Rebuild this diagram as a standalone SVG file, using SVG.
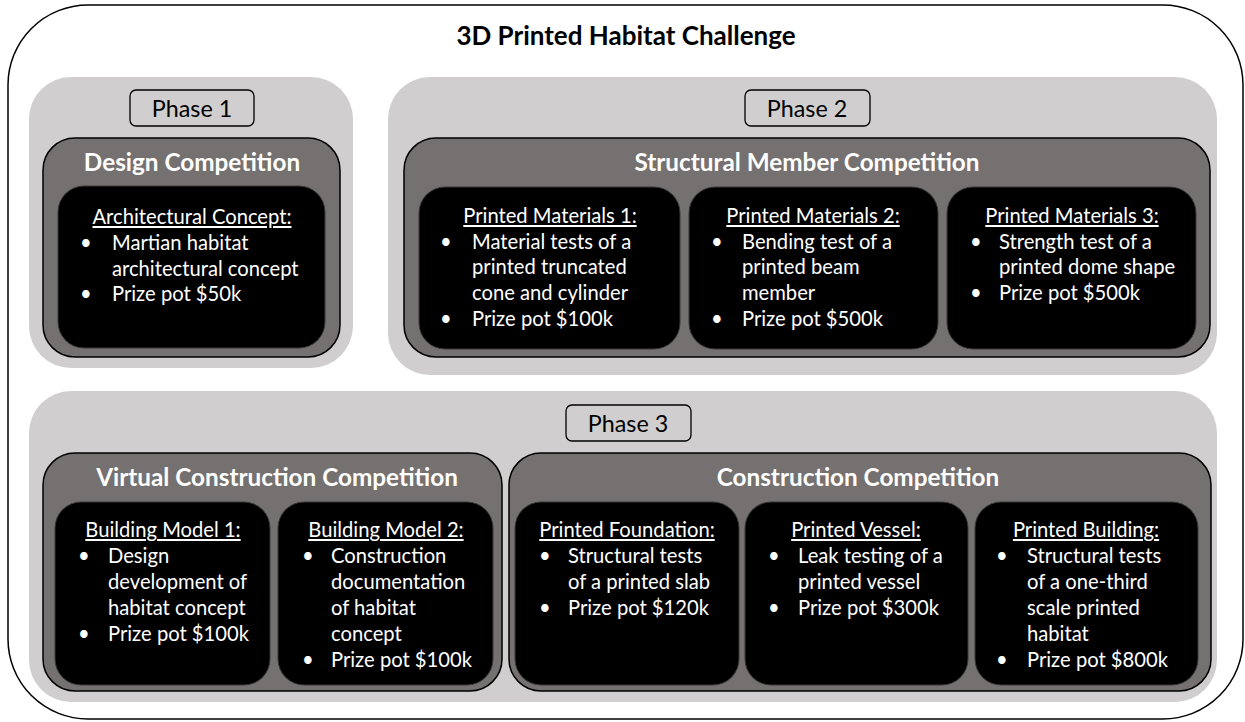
<svg xmlns="http://www.w3.org/2000/svg" width="1245" height="722" viewBox="0 0 1245 722">
  <style>
    .frame { fill: #ffffff; stroke: #000000; stroke-width: 1.5; }
    .phase { fill: #d0cece; stroke: none; }
    .tag { fill: none; stroke: #000000; stroke-width: 1.3; }
    .comp { fill: #767171; stroke: #000000; stroke-width: 1.5; }
    .item { fill: #000000; stroke: #3a3838; stroke-width: 1; }
    text { font-family: Lato, "Liberation Sans", sans-serif; }
    .title { font-size: 26px; font-weight: bold; fill: #000000; text-anchor: middle; }
    .tagtxt { font-size: 23.3px; fill: #000000; text-anchor: middle; }
    .ctitle { font-size: 24.3px; font-weight: bold; fill: #ffffff; text-anchor: middle; }
    .head { font-size: 20.2px; fill: #ffffff; text-anchor: middle; text-decoration: underline; }
    .body { font-size: 20.2px; fill: #ffffff; }
  </style>

  <!-- outer frame -->
  <rect id="frame" class="frame" x="8" y="5" width="1235" height="714" rx="80" ry="80"/>
  <text id="main-title" class="title" x="626" y="45">3D Printed Habitat Challenge</text>

  <!-- Phase 1 -->
  <g id="phase1">
    <rect class="phase" x="29" y="77" width="324" height="291" rx="42"/>
    <rect class="tag" x="130" y="90" width="124" height="36" rx="6"/>
    <text class="tagtxt" x="192" y="117">Phase 1</text>
  </g>
  <g id="design-competition">
    <rect class="comp" x="43" y="138" width="297" height="219" rx="32"/>
    <text class="ctitle" x="192" y="171">Design Competition</text>
  </g>
  <g id="architectural-concept">
    <rect class="item" x="58" y="186" width="267" height="162" rx="26"/>
    <text class="head" x="192" y="224">Architectural Concept:</text>
    <text class="body" x="80" y="250">•</text>
    <text class="body" x="112" y="250">Martian habitat</text>
    <text class="body" x="112" y="276">architectural concept</text>
    <text class="body" x="80" y="301">•</text>
    <text class="body" x="112" y="301">Prize pot $50k</text>
  </g>

  <!-- Phase 2 -->
  <g id="phase2">
    <rect class="phase" x="388" y="77" width="829" height="298" rx="42"/>
    <rect class="tag" x="745" y="90" width="125" height="36" rx="6"/>
    <text class="tagtxt" x="807" y="117">Phase 2</text>
  </g>
  <g id="structural-member-competition">
    <rect class="comp" x="404" y="138" width="806" height="219" rx="32"/>
    <text class="ctitle" x="807" y="171">Structural Member Competition</text>
  </g>
  <g id="printed-materials-1">
    <rect class="item" x="419" y="187" width="261" height="162" rx="26"/>
    <text class="head" x="550" y="223">Printed Materials 1:</text>
    <text class="body" x="440" y="249">•</text>
    <text class="body" x="472" y="249">Material tests of a</text>
    <text class="body" x="472" y="274">printed truncated</text>
    <text class="body" x="472" y="300">cone and cylinder</text>
    <text class="body" x="440" y="326">•</text>
    <text class="body" x="472" y="326">Prize pot $100k</text>
  </g>
  <g id="printed-materials-2">
    <rect class="item" x="689" y="187" width="249" height="162" rx="26"/>
    <text class="head" x="813" y="223">Printed Materials 2:</text>
    <text class="body" x="711" y="249">•</text>
    <text class="body" x="742" y="249">Bending test of a</text>
    <text class="body" x="742" y="274">printed beam</text>
    <text class="body" x="742" y="300">member</text>
    <text class="body" x="711" y="326">•</text>
    <text class="body" x="742" y="326">Prize pot $500k</text>
  </g>
  <g id="printed-materials-3">
    <rect class="item" x="947" y="187" width="249" height="162" rx="26"/>
    <text class="head" x="1072" y="223">Printed Materials 3:</text>
    <text class="body" x="970" y="249">•</text>
    <text class="body" x="999" y="249">Strength test of a</text>
    <text class="body" x="999" y="274">printed dome shape</text>
    <text class="body" x="970" y="300">•</text>
    <text class="body" x="999" y="300">Prize pot $500k</text>
  </g>

  <!-- Phase 3 -->
  <g id="phase3">
    <rect class="phase" x="29" y="391" width="1188" height="311" rx="42"/>
    <rect class="tag" x="566" y="405" width="125" height="36" rx="6"/>
    <text class="tagtxt" x="628" y="432">Phase 3</text>
  </g>
  <g id="virtual-construction-competition">
    <rect class="comp" x="43" y="453" width="459" height="238" rx="32"/>
    <text class="ctitle" x="277" y="486">Virtual Construction Competition</text>
  </g>
  <g id="building-model-1">
    <rect class="item" x="55" y="502" width="215" height="183" rx="26"/>
    <text class="head" x="163" y="537">Building Model 1:</text>
    <text class="body" x="78" y="563">•</text>
    <text class="body" x="108" y="563">Design</text>
    <text class="body" x="108" y="589">development of</text>
    <text class="body" x="108" y="615">habitat concept</text>
    <text class="body" x="78" y="641">•</text>
    <text class="body" x="108" y="641">Prize pot $100k</text>
  </g>
  <g id="building-model-2">
    <rect class="item" x="278" y="502" width="215" height="183" rx="26"/>
    <text class="head" x="386" y="537">Building Model 2:</text>
    <text class="body" x="302" y="563">•</text>
    <text class="body" x="331" y="563">Construction</text>
    <text class="body" x="331" y="589">documentation</text>
    <text class="body" x="331" y="615">of habitat</text>
    <text class="body" x="331" y="641">concept</text>
    <text class="body" x="302" y="667">•</text>
    <text class="body" x="331" y="667">Prize pot $100k</text>
  </g>
  <g id="construction-competition">
    <rect class="comp" x="509" y="453" width="702" height="238" rx="32"/>
    <text class="ctitle" x="858" y="486">Construction Competition</text>
  </g>
  <g id="printed-foundation">
    <rect class="item" x="515" y="502" width="224" height="183" rx="26"/>
    <text class="head" x="627" y="537">Printed Foundation:</text>
    <text class="body" x="539" y="563">•</text>
    <text class="body" x="568" y="563">Structural tests</text>
    <text class="body" x="568" y="589">of a printed slab</text>
    <text class="body" x="539" y="615">•</text>
    <text class="body" x="568" y="615">Prize pot $120k</text>
  </g>
  <g id="printed-vessel">
    <rect class="item" x="745" y="502" width="223" height="183" rx="26"/>
    <text class="head" x="856" y="537">Printed Vessel:</text>
    <text class="body" x="768" y="563">•</text>
    <text class="body" x="798" y="563">Leak testing of a</text>
    <text class="body" x="798" y="589">printed vessel</text>
    <text class="body" x="768" y="615">•</text>
    <text class="body" x="798" y="615">Prize pot $300k</text>
  </g>
  <g id="printed-building">
    <rect class="item" x="975" y="502" width="223" height="183" rx="26"/>
    <text class="head" x="1086" y="537">Printed Building:</text>
    <text class="body" x="996" y="563">•</text>
    <text class="body" x="1027" y="563">Structural tests</text>
    <text class="body" x="1027" y="589">of a one-third</text>
    <text class="body" x="1027" y="615">scale printed</text>
    <text class="body" x="1027" y="641">habitat</text>
    <text class="body" x="996" y="667">•</text>
    <text class="body" x="1027" y="667">Prize pot $800k</text>
  </g>

  <!-- no connectors in this layout -->
  <g id="connectors"/>
</svg>
